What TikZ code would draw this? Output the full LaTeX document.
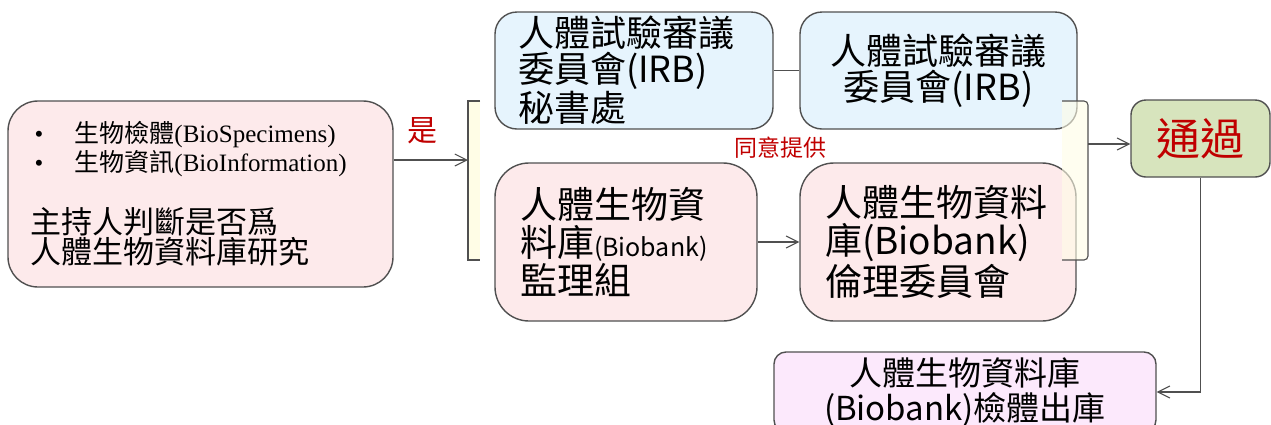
\documentclass[tikz,border=0pt]{standalone}
\usepackage{fontspec}
\setmainfont{Liberation Serif}
\newfontfamily\cjk{Noto Sans CJK TC}
\usetikzlibrary{arrows.meta}
\definecolor{boxline}{HTML}{505050}
\definecolor{pinkbg}{HTML}{FDEAEB}
\definecolor{bluebg}{HTML}{E6F4FD}
\definecolor{greenbg}{HTML}{D7E4BD}
\definecolor{lilacbg}{HTML}{FCE9FC}
\definecolor{yellowbg}{HTML}{FFFDE6}
\definecolor{darkred}{HTML}{C00000}
\setlength{\lineskiplimit}{-20pt}
\begin{document}
\begin{tikzpicture}[x=0.5pt, y=-0.5pt,
    box/.style={draw=boxline, line width=0.7pt, inner sep=0pt},
    link/.style={draw=boxline, line width=0.55pt},
    arr/.style={link, -{Straight Barb[length=6pt, width=6pt, line width=0.55pt]}}]
        \useasboundingbox (0,0) rectangle (1271,424);
        \pgfmathsetmacro{\brtop}{101};
        \pgfmathsetmacro{\brbot}{260};
        \node [box, fill=pinkbg, rounded corners=15pt, minimum width=192.5pt, minimum height=93pt, text width=170pt, align=left] (src) at (200.5,194) {\fontsize{12.5}{12}\selectfont
            \hspace*{2pt}\makebox[20pt][l]{\textbullet}{\cjk 生物檢體}(BioSpecimens)\\
            \hspace*{2pt}\makebox[20pt][l]{\textbullet}{\cjk 生物資訊}(BioInformation)\par
            \vspace{15pt}\fontsize{15.5}{16}\selectfont\cjk 主持人判斷是否爲\\人體生物資料庫研究};
        \node [box, fill=bluebg, rounded corners=11pt, minimum width=139pt, minimum height=58.5pt, text width=116pt, align=left, font=\cjk\fontsize{18}{17.75}\selectfont] (irbsec) at (634,70.5) {人體試驗審議\\委員會(IRB)\\秘書處};
        \node [box, fill=bluebg, rounded corners=11pt, minimum width=138.5pt, minimum height=58.5pt, align=center, font=\cjk\fontsize{18}{17.75}\selectfont] (irb) at (938.5,70.5) {人體試驗審議\\委員會(IRB)};
        \node [box, fill=pinkbg, rounded corners=17pt, minimum width=131pt, minimum height=79pt, text width=106pt, align=left, font=\cjk\fontsize{18.5}{19}\selectfont] (bbsup) at (626,242) {人體生物資\\料庫{\fontsize{12.5}{19}\selectfont(Biobank)}\\監理組};
        \node [box, fill=pinkbg, rounded corners=17pt, minimum width=138pt, minimum height=79pt, text width=113pt, align=left, font=\cjk\fontsize{18.5}{19}\selectfont] (bbeth) at (938,242) {人體生物資料\\庫(Biobank)\\倫理委員會};
        \node [box, fill=greenbg, rounded corners=7.5pt, minimum width=69.5pt, minimum height=38.5pt, text=darkred, font=\cjk\fontsize{22}{22}\selectfont] (pass) at (1200.5,138.5) {通過};
        \node [box, fill=lilacbg, rounded corners=6pt, minimum width=191pt, minimum height=40pt, align=center, font=\cjk\fontsize{16.5}{17.5}\selectfont] (out) at (965,392) {人體生物資料庫\\(Biobank)檢體出庫};
        \node [text=darkred, font=\cjk\fontsize{15}{15}\selectfont] (yes) at (422,131) {是};
        \node [text=darkred, font=\cjk\fontsize{11.5}{11.5}\selectfont] (agree) at (780,148) {同意提供};
        \fill [yellowbg] (468,\brtop) rectangle (480,\brbot);
        \draw [link] (480,\brtop) -- (468,\brtop) -- (468,\brbot) -- (480,\brbot);
        \coordinate (brL) at (468,160);
        \fill [yellowbg, fill opacity=0.6] (1062,\brtop) rectangle (1088,\brbot);
        \draw [link, rounded corners=2pt] (1062,\brtop) -- (1088,\brtop) -- (1088,\brbot) -- (1062,\brbot);
        \coordinate (brR) at (1088,144);
        \draw [arr] (src.east |- brL) -- (brL);
        \draw [link] (irbsec) -- (irb);
        \draw [arr] (bbsup) -- (bbeth);
        \draw [arr] (brR) -- (brR -| pass.west);
        \draw [arr] (pass.south) |- (out.east);
    \end{tikzpicture}
\end{document}
